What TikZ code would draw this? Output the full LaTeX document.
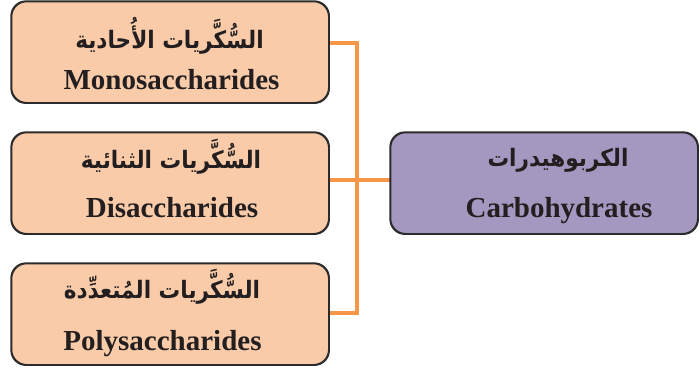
\documentclass[tikz,border=0pt]{standalone}
\usepackage{fontspec}
\setmainfont{Liberation Serif}
\newfontfamily\arabicfont[Script=Arabic]{DejaVu Sans}
\TeXXeTstate=1
\definecolor{peach}{HTML}{F9CBA8}
\definecolor{lilac}{HTML}{A598C0}
\definecolor{connorange}{HTML}{F79646}
\definecolor{boxline}{HTML}{2B2B2B}
\definecolor{ink}{HTML}{231F20}
\newcommand{\artxt}[1]{\scalebox{0.9}[1]{\beginR #1\endR}}
\begin{document}
\begin{tikzpicture}[x=1pt,y=-1pt,
  box/.style={draw=boxline, line width=1.3pt, rounded corners=15pt, anchor=north west, inner sep=0pt, minimum width=317pt, minimum height=101pt},
  conn/.style={draw=connorange, line width=4pt, line join=miter},
  ar/.style={anchor=base, inner sep=0pt, text=ink, font=\arabicfont\bfseries\fontsize{24}{28}\selectfont},
  en/.style={anchor=base, inner sep=0pt, text=ink, font=\bfseries\fontsize{29}{32}\selectfont}]
\useasboundingbox (0,0) rectangle (699,370);
% connectors
\coordinate (j1) at (357,43);
\coordinate (j3) at (357,313);
\coordinate (m) at (357,180);
% boxes
\node[box, fill=peach] (b1) at (11,1) {};
\node[box, fill=peach] (b2) at (11,132) {};
\node[box, fill=peach] (b3) at (11,263) {};
\node[box, fill=lilac, minimum width=307pt] (b4) at (390,132) {};
\draw[conn] (b1.east |- j1) -- (j1) -- (j3) -- (b3.east |- j3);
\draw[conn] (b2.east |- m) -- (b4.west |- m);
\draw[boxline, line width=1.3pt, rounded corners=15pt] (b1.north west) rectangle (b1.south east);
\draw[boxline, line width=1.3pt, rounded corners=15pt] (b2.north west) rectangle (b2.south east);
\draw[boxline, line width=1.3pt, rounded corners=15pt] (b3.north west) rectangle (b3.south east);
\draw[boxline, line width=1.3pt, rounded corners=15pt] (b4.north west) rectangle (b4.south east);
% texts
\node[ar] (a1) at (169.5,48) {\artxt{السُّكَّريات الأُحادية}};
\node[en] (e1) at (171.5,89) {Monosaccharides};
\node[ar] (a2) at (171,168) {\artxt{السُّكَّريات الثنائية}};
\node[en] (e2) at (172,217) {Disaccharides};
\node[ar] (a3) at (162,298) {\artxt{السُّكَّريات المُتعدِّدة}};
\node[en] (e3) at (162.5,350) {Polysaccharides};
\node[ar] (a4) at (558,166) {\artxt{الكربوهيدرات}};
\node[en] (e4) at (559,217) {Carbohydrates};
\end{tikzpicture}
\end{document}
